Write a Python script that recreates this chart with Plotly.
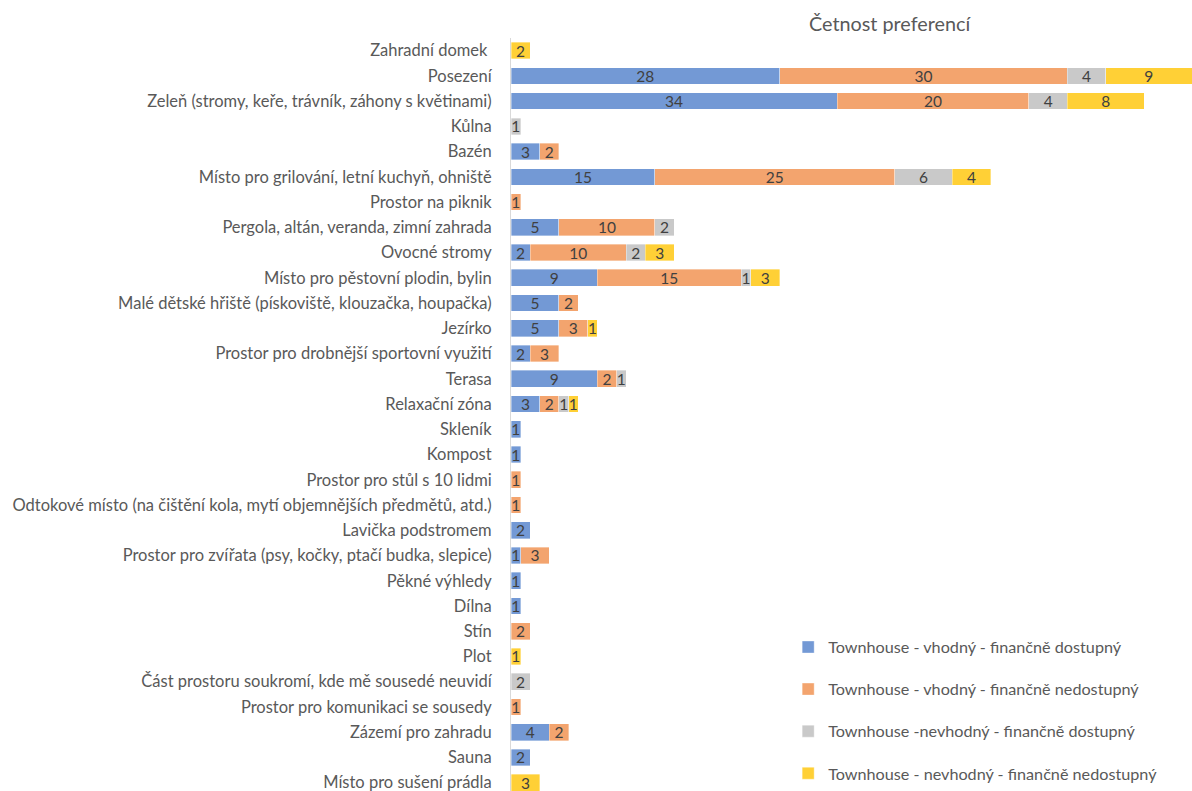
import plotly.graph_objects as go

# Garden features and how often each was chosen, split by townhouse suitability / affordability
categories = [
    "Zahradní domek\u00a0",
    "Posezení",
    "Zeleň (stromy, keře, trávník, záhony s květinami)",
    "Kůlna",
    "Bazén",
    "Místo pro grilování, letní kuchyň, ohniště",
    "Prostor na piknik",
    "Pergola, altán, veranda, zimní zahrada",
    "Ovocné stromy",
    "Místo pro pěstovní plodin, bylin",
    "Malé dětské hřiště (pískoviště, klouzačka, houpačka)",
    "Jezírko",
    "Prostor pro drobnější sportovní využití",
    "Terasa",
    "Relaxační zóna",
    "Skleník",
    "Kompost",
    "Prostor pro stůl s 10 lidmi",
    "Odtokové místo (na čištění kola, mytí objemnějších předmětů, atd.)",
    "Lavička podstromem",
    "Prostor pro zvířata (psy, kočky, ptačí budka, slepice)",
    "Pěkné výhledy",
    "Dílna",
    "Stín",
    "Plot",
    "Část prostoru soukromí, kde mě sousedé neuvidí",
    "Prostor pro komunikaci se sousedy",
    "Zázemí pro zahradu",
    "Sauna",
    "Místo pro sušení prádla",
]

vhodny_dostupny = [None, 28, 34, None, 3, 15, None, 5, 2, 9, 5, 5, 2, 9, 3,
                   1, 1, None, None, 2, 1, 1, 1, None, None, None, None, 4, 2, None]
vhodny_nedostupny = [None, 30, 20, None, 2, 25, 1, 10, 10, 15, 2, 3, 3, 2, 2,
                     None, None, 1, 1, None, 3, None, None, 2, None, None, 1, 2, None, None]
nevhodny_dostupny = [None, 4, 4, 1, None, 6, None, 2, 2, 1, None, None, None, 1, 1,
                     None, None, None, None, None, None, None, None, None, None, 2, None, None, None, None]
nevhodny_nedostupny = [2, 9, 8, None, None, 4, None, None, 3, 3, None, 1, None, None, 1,
                       None, None, None, None, None, None, None, None, None, 1, None, None, None, None, 3]

series_names = [
    "Townhouse - vhodný - finančně dostupný",
    "Townhouse - vhodný - finančně nedostupný",
    "Townhouse -nevhodný - finančně dostupný",
    "Townhouse - nevhodný - finančně nedostupný",
]
series_values = [vhodny_dostupny, vhodny_nedostupny, nevhodny_dostupny, nevhodny_nedostupny]
series_colors = ["#7399d5", "#f3a46e", "#c9c9c9", "#ffd036"]

FONT = "Lato"
TEXT_GRAY = "#595959"

fig = go.Figure()
for i, (name, vals, col) in enumerate(zip(series_names, series_values, series_colors)):
    fig.add_trace(go.Bar(
        name=name,
        y=categories,
        x=vals,
        orientation="h",
        marker=dict(color=col, line=dict(color="rgba(255,255,255,0.6)", width=0.6)),
        text=[("" if v is None else str(v)) for v in vals],
        textposition="inside",
        insidetextanchor="middle",
        textangle=0,
        constraintext="none",
        textfont=dict(family=FONT, size=15.5, color="#404040"),
        legendgroup=f"g{i}",
        hoverinfo="x+y+name",
    ))

fig.update_layout(
    barmode="stack",
    bargap=0.34,
    width=1192,
    height=791,
    margin=dict(l=511, r=0, t=38, b=0, pad=0),
    paper_bgcolor="white",
    plot_bgcolor="white",
    font=dict(family=FONT, size=16, color=TEXT_GRAY),
    uniformtext=dict(mode="show", minsize=15.5),
    xaxis=dict(visible=False, range=[0, 71], fixedrange=True),
    yaxis=dict(
        type="category",
        categoryorder="array",
        categoryarray=categories,
        range=[29.33, -0.5],
        showline=True,
        linecolor="#d9d9d9",
        linewidth=1,
        showgrid=False,
        ticks="",
        ticklabelstandoff=15,
        tickfont=dict(family=FONT, size=16.5, color=TEXT_GRAY),
        fixedrange=True,
    ),
    legend=dict(
        x=0.407,
        xanchor="left",
        y=0,
        yanchor="bottom",
        traceorder="grouped",
        tracegroupgap=18,
        font=dict(family=FONT, size=16.2, color=TEXT_GRAY),
        bgcolor="rgba(0,0,0,0)",
        itemwidth=30,
    ),
    showlegend=True,
    annotations=[dict(
        text="Četnost preferencí",
        xref="paper", yref="paper",
        x=(890 - 511) / 681, y=1,
        xanchor="center", yanchor="bottom",
        yshift=1,
        showarrow=False,
        font=dict(family=FONT, size=19.8, color=TEXT_GRAY),
    )],
)

fig.write_html("out.html")
